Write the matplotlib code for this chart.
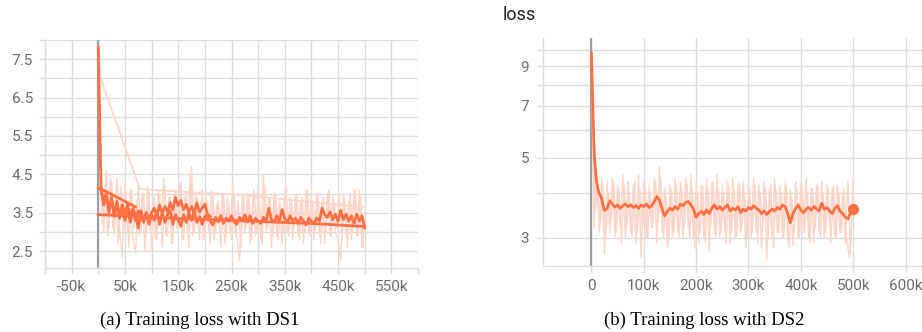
import numpy as np
import matplotlib
matplotlib.use("Agg")
import matplotlib.pyplot as plt
from matplotlib.ticker import FixedLocator, FuncFormatter, NullLocator

# ---------------- data: DS1 (left) ----------------
ds1_raw_steps = np.arange(0, 500001, 5000)
ds1_raw = [7.8, 4.8, 3.0, 4.6, 3.1, 4.3, 2.9, 4.4, 3.0, 2.35,
           4.3, 3.0, 4.1, 2.8, 2.45, 4.2, 3.0, 4.0, 2.9, 4.1,
           2.5, 3.9, 2.8, 4.0, 2.6, 4.2, 2.9, 3.9, 2.7, 4.1,
           3.0, 4.3, 2.8, 4.0, 2.6, 4.7, 3.0, 3.9, 2.8, 4.1,
           2.9, 3.8, 2.7, 4.0, 3.0, 3.8, 2.6, 4.0, 2.9, 3.7,
           2.8, 4.0, 2.9, 2.25, 3.9, 3.0, 4.0, 2.7, 3.9, 2.9,
           4.1, 2.8, 4.5, 3.0, 3.9, 2.6, 4.0, 2.9, 3.8, 2.7,
           4.0, 3.0, 3.9, 2.8, 4.0, 2.9, 3.8, 2.7, 4.1, 3.0,
           3.9, 2.8, 4.0, 2.9, 3.8, 2.7, 4.0, 2.9, 3.9, 3.0,
           2.8, 2.25, 4.0, 2.9, 3.8, 2.8, 4.1, 2.9, 4.1, 2.6,
           3.2]

ds1_rawb_steps = np.arange(2500, 500000, 5000)
ds1_rawb = [4.5, 3.2, 4.2, 2.9, 4.4, 3.1, 4.0, 2.7, 4.2, 3.0,
            3.9, 2.6, 4.1, 3.1, 3.8, 2.9, 4.0, 2.5, 4.2, 3.0,
            3.7, 2.8, 4.1, 3.2, 4.4, 2.9, 3.9, 2.7, 4.0, 3.1,
            4.2, 2.8, 3.9, 3.0, 4.5, 2.9, 4.0, 3.1, 3.8, 2.8,
            3.9, 3.0, 4.1, 2.8, 3.7, 3.1, 4.0, 2.7, 3.9, 3.0,
            4.2, 2.9, 3.8, 2.6, 4.0, 3.1, 3.9, 2.8, 4.1, 3.0,
            3.8, 2.7, 4.2, 3.1, 3.9, 2.9, 4.0, 2.8, 3.7, 3.0,
            4.1, 2.9, 3.8, 3.1, 4.0, 2.8, 3.9, 3.0, 4.1, 2.9,
            3.8, 3.1, 4.0, 2.7, 3.9, 3.0, 4.1, 2.9, 3.8, 3.1,
            4.0, 2.8, 3.9, 2.6, 4.0, 3.0, 4.1, 2.9, 3.9, 2.6]

ds1_a_steps = np.arange(0, 500001, 5000)
ds1_a = [7.8, 4.2, 3.7, 4.0, 3.5, 3.9, 3.4, 3.8, 3.35, 3.7,
         3.3, 3.65, 3.25, 3.6, 3.45, 3.1, 3.55, 3.3, 3.5, 3.2,
         3.45, 3.3, 3.55, 3.2, 3.5, 3.25, 3.45, 3.55, 3.2, 3.45,
         3.3, 3.15, 3.45, 3.25, 3.5, 3.3, 3.55, 3.25, 3.4, 3.2,
         3.4, 3.45, 3.28, 3.18, 3.38, 3.26, 3.42, 3.22, 3.36, 3.28,
         3.42, 3.26, 3.2, 3.38, 3.28, 3.45, 3.26, 3.42, 3.22, 3.36,
         3.28, 3.22, 3.38, 3.26, 3.62, 3.32, 3.26, 3.42, 3.28, 3.58,
         3.34, 3.26, 3.42, 3.28, 3.36, 3.22, 3.38, 3.28, 3.18, 3.36,
         3.28, 3.22, 3.36, 3.28, 3.62, 3.44, 3.38, 3.52, 3.32, 3.46,
         3.28, 3.56, 3.32, 3.46, 3.28, 3.42, 3.22, 3.46, 3.28, 3.42,
         3.1]

ds1_b_steps = np.arange(0, 210001, 5000)
ds1_b = [4.15, 4.1, 3.8, 4.0, 3.6, 3.85, 3.45, 3.75, 3.4, 3.7,
         3.5, 3.72, 3.4, 3.6, 3.3, 3.55, 3.4, 3.25, 3.5, 3.3,
         3.5, 3.62, 3.42, 3.7, 3.48, 3.66, 3.52, 3.76, 3.58, 3.9,
         3.68, 3.82, 3.58, 3.72, 3.52, 3.66, 3.48, 3.76, 3.52, 3.62,
         3.72, 3.45, 3.4]

ds1_c_steps = [0, 15000, 100000, 250000, 400000, 500000]
ds1_c = [3.45, 3.44, 3.38, 3.3, 3.22, 3.14]

ds1_e_steps = [8000, 70000]
ds1_e = [4.1, 3.65]

ds1_d_steps = [0, 3000, 78000, 150000, 250000, 350000, 420000, 500000]
ds1_d = [7.8, 7.05, 4.12, 4.05, 3.98, 3.85, 3.75, 3.65]

# ---------------- data: DS2 (right) ----------------
ds2_raw_steps = np.arange(0, 500001, 5000)
ds2_raw = [9.8, 3.2, 4.3, 3.1, 4.4, 2.7, 4.3, 3.1, 4.4, 3.0,
           4.2, 3.2, 4.5, 3.0, 4.3, 3.1, 4.2, 2.9, 4.5, 2.65,
           4.3, 3.0, 4.2, 3.2, 4.4, 2.9, 4.75, 3.1, 4.1, 2.8,
           4.2, 3.0, 4.4, 3.1, 4.3, 3.0, 4.4, 3.2, 4.5, 3.0,
           4.3, 2.9, 4.2, 3.0, 4.4, 2.75, 4.3, 3.1, 4.5, 3.0,
           4.2, 3.1, 4.3, 2.9, 4.4, 3.0, 4.2, 3.1, 4.3, 2.8,
           4.2, 3.0, 4.4, 3.1, 4.2, 2.8, 4.3, 2.6, 4.1, 3.0,
           4.4, 3.1, 4.2, 3.0, 4.3, 2.9, 4.1, 2.85, 4.3, 3.0,
           4.2, 3.1, 4.4, 3.0, 4.1, 2.9, 4.2, 3.1, 4.3, 3.0,
           4.2, 3.2, 4.1, 3.0, 4.2, 3.1, 4.0, 2.9, 4.3, 2.7,
           4.4]

ds2_rawb_steps = np.arange(2500, 500000, 5000)
ds2_rawb = [6.5, 3.6, 4.1, 3.3, 4.2, 3.0, 4.0, 3.3, 4.3, 3.1,
            4.1, 2.9, 4.2, 3.2, 4.0, 3.0, 4.3, 3.1, 4.1, 3.2,
            4.2, 3.0, 4.0, 3.2, 4.3, 3.3, 4.4, 3.0, 3.9, 2.9,
            4.1, 3.1, 4.2, 3.0, 4.1, 3.2, 4.3, 3.0, 4.1, 2.8,
            4.0, 3.1, 4.2, 2.9, 4.1, 3.2, 4.3, 3.0, 4.1, 3.1,
            4.0, 2.9, 4.2, 3.1, 4.1, 3.0, 4.3, 3.2, 4.0, 3.0,
            4.1, 3.1, 4.2, 2.9, 4.0, 3.2, 4.1, 3.0, 4.2, 2.8,
            4.1, 3.1, 4.0, 3.0, 4.2, 2.8, 3.9, 3.1, 4.1, 3.0,
            4.2, 3.1, 4.0, 2.9, 4.1, 3.2, 4.2, 3.0, 4.0, 3.1,
            4.1, 2.9, 4.2, 3.0, 4.0, 3.1, 4.1, 3.0, 2.65, 3.4]

ds2_early_steps = [0, 1500, 3000, 4500, 6000, 8000, 9500, 11000, 12700, 15000,
                   19000, 22000, 25000]
ds2_early = [9.8, 8.2, 6.8, 5.6, 4.97, 4.6, 4.35, 4.2, 4.08, 3.98,
             3.88, 3.7, 3.57]
ds2_late_steps = np.arange(30000, 500001, 5000)
ds2_late = [3.62, 3.8, 3.72, 3.65, 3.7, 3.62, 3.68, 3.72, 3.66, 3.7,
            3.64, 3.68, 3.62, 3.7, 3.66, 3.72, 3.64, 3.68, 3.78, 3.9,
            3.82, 3.6, 3.45, 3.55, 3.62, 3.58, 3.66, 3.6, 3.72, 3.68,
            3.76, 3.78, 3.7, 3.6, 3.42, 3.5, 3.55, 3.48, 3.58, 3.5,
            3.62, 3.7, 3.6, 3.66, 3.58, 3.64, 3.7, 3.56, 3.62, 3.58,
            3.66, 3.52, 3.6, 3.56, 3.64, 3.6, 3.68, 3.62, 3.58, 3.5,
            3.56, 3.48, 3.55, 3.6, 3.56, 3.64, 3.6, 3.7, 3.66, 3.5,
            3.3, 3.5, 3.62, 3.7, 3.58, 3.52, 3.6, 3.64, 3.58, 3.66,
            3.6, 3.56, 3.74, 3.6, 3.64, 3.56, 3.5, 3.62, 3.68, 3.55,
            3.5, 3.42, 3.38, 3.52, 3.6]

# ---------------- styling ----------------
ORANGE = "#ff7043"
RAWC = "#fdd6ca"
GRID = "#dcdcdc"
ZERO = "#9e9e9e"
TICKC = "#6b6b6b"
plt.rcParams["font.family"] = ["Roboto", "DejaVu Sans"]

fig = plt.figure(figsize=(9.22, 3.32), dpi=100)
ax1 = fig.add_axes([45 / 922, 1 - 268 / 332, 373 / 922, 228 / 332])
ax2 = fig.add_axes([543 / 922, 1 - 266 / 332, 379 / 922, 228 / 332])


def kfmt(v):
    if abs(v) < 1:
        return "0"
    return f"{int(round(v / 1000))}k"


for ax in (ax1, ax2):
    for s in ("top", "right"):
        ax.spines[s].set_visible(False)
    for s in ("left", "bottom"):
        ax.spines[s].set_color(GRID)
        ax.spines[s].set_linewidth(1.0)
    ax.grid(True, color=GRID, linewidth=1.0)
    ax.set_axisbelow(True)
    ax.tick_params(colors=GRID, labelcolor=TICKC, labelsize=11, width=1.0)
    ax.axvline(0, color=ZERO, linewidth=1.6, zorder=1)

# left panel
lw_s = 2.0
ax1.plot(ds1_raw_steps, ds1_raw, color=RAWC, lw=1.0, zorder=2)
ax1.plot(ds1_rawb_steps, ds1_rawb, color=RAWC, lw=1.0, zorder=2)
ax1.plot(ds1_d_steps, ds1_d, color=RAWC, lw=1.3, zorder=2)
ax1.plot(ds1_c_steps, ds1_c, color=ORANGE, lw=lw_s, zorder=3)
ax1.plot(ds1_e_steps, ds1_e, color=ORANGE, lw=lw_s, zorder=3)
ax1.plot(ds1_b_steps, ds1_b, color=ORANGE, lw=lw_s, zorder=3)
ax1.plot(ds1_a_steps, ds1_a, color=ORANGE, lw=lw_s, zorder=3)

ax1.set_xlim(-100000, 600000)
ax1.set_ylim(2.06, 8.0)
ax1.xaxis.set_major_locator(FixedLocator(np.arange(-100000, 600001, 50000)))
ax1.xaxis.set_major_formatter(FuncFormatter(
    lambda v, p: kfmt(v) if int(round(v / 50000)) % 2 != 0 else ""))
ax1.yaxis.set_major_locator(FixedLocator(np.arange(2.5, 8.01, 0.5)))
ax1.yaxis.set_major_formatter(FuncFormatter(
    lambda v, p: f"{v:.1f}" if int(round(v * 2)) % 2 == 1 else ""))
ax1.tick_params(axis="x", length=4, pad=4.5)
ax1.tick_params(axis="y", length=4, pad=4.5)

# right panel
ax2.plot(ds2_raw_steps, ds2_raw, color=RAWC, lw=1.0, zorder=2)
ax2.plot(ds2_rawb_steps, ds2_rawb, color=RAWC, lw=1.0, zorder=2)
ds2_steps = np.concatenate([ds2_early_steps, ds2_late_steps])
ds2_vals = np.concatenate([ds2_early, ds2_late])
ax2.plot(ds2_steps, ds2_vals, color=ORANGE, lw=lw_s, zorder=3)
ax2.plot(ds2_steps[-1:], ds2_vals[-1:], "o", color=ORANGE, markersize=7, zorder=4)

ax2.set_yscale("log")
ax2.set_xlim(-92500, 631500)
ax2.set_ylim(2.5, 10.8)
ax2.xaxis.set_major_locator(FixedLocator(np.arange(0, 600001, 100000)))
ax2.xaxis.set_major_formatter(FuncFormatter(lambda v, p: kfmt(v)))
ax2.yaxis.set_major_locator(FixedLocator([3, 4, 5, 6, 7, 8, 9, 10]))
ax2.yaxis.set_minor_locator(NullLocator())
ax2.yaxis.set_major_formatter(FuncFormatter(
    lambda v, p: f"{int(round(v))}" if int(round(v)) in (3, 5, 7, 9) else ""))
ax2.tick_params(axis="x", length=4, pad=5)
ax2.tick_params(axis="y", length=5, pad=5)

fig.text(503 / 922, 1 - 15 / 332, "loss", ha="left", va="center",
         fontsize=13, color="#212121")

fig.text(200 / 922, 1 - 320 / 332, "(a) Training loss with DS1", ha="center",
         va="center", fontsize=13.5, family=["Liberation Serif", "DejaVu Serif"])
fig.text(704 / 922, 1 - 320 / 332, "(b) Training loss with DS2", ha="center",
         va="center", fontsize=13.5, family=["Liberation Serif", "DejaVu Serif"])

fig.savefig("out.png", dpi=100)
